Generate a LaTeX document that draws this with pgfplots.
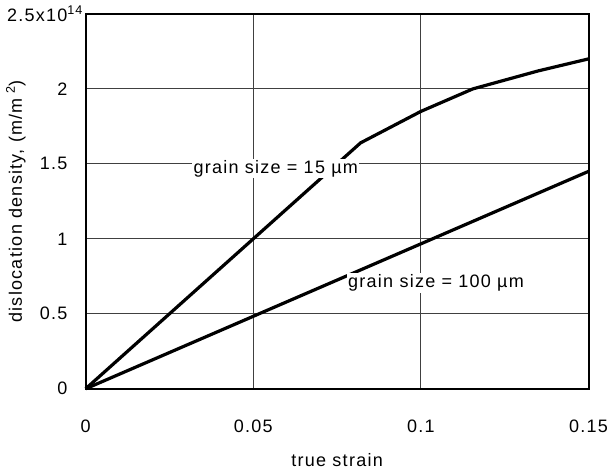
\documentclass[border=0pt]{standalone}
\usepackage{fontspec}
\setmainfont{Liberation Sans}[LetterSpace=7]
\usepackage{pgfplots}
\pgfplotsset{compat=1.18}
\begin{document}
\fontsize{13.5}{16}\selectfont
\begin{tikzpicture}
\begin{axis}[
  scale only axis,
  width=377pt, height=281pt,
  xmin=0, xmax=0.15, ymin=0, ymax=2.5,
  xtick={0,0.05,0.1,0.15},
  xticklabels={0,0.05,0.1,0.15},
  ytick={0,0.5,1,1.5,2,2.5},
  yticklabels={0,0.5,1,1.5,2,{2.5x10\rlap{\textsuperscript{14}}}},
  /pgf/number format/assume math mode=true,
  major tick length=0pt,
  grid=major,
  grid style={line width=0.8pt, black!75},
  axis line style={line width=1.6pt},
  tick label style={font=\fontsize{13.5}{16}\selectfont},
  xticklabel style={yshift=-19pt},
  yticklabel style={xshift=-9pt},
  label style={font=\fontsize{13.5}{16}\selectfont},
  xlabel={true strain},
  xlabel style={yshift=-6pt},
  ylabel={dislocation density, (m/m\textsuperscript{ 2})},
  ylabel style={at={(axis description cs:-0.139,0.5)}, anchor=center},
  clip=false,
]
\addplot[black, line width=2.4pt] coordinates {
  (0,0) (0.082,1.64) (0.1,1.85) (0.1155,2.0) (0.135,2.12) (0.15,2.2)
};
\addplot[black, line width=2.4pt] coordinates {
  (0,0) (0.15,1.45)
};
\node[fill=white, inner sep=1pt] at (axis cs:0.0567,1.47) {grain size = 15 µm};
\node[fill=white, inner sep=1pt] at (axis cs:0.1045,0.705) {grain size = 100 µm};
\end{axis}
\end{tikzpicture}
\end{document}
